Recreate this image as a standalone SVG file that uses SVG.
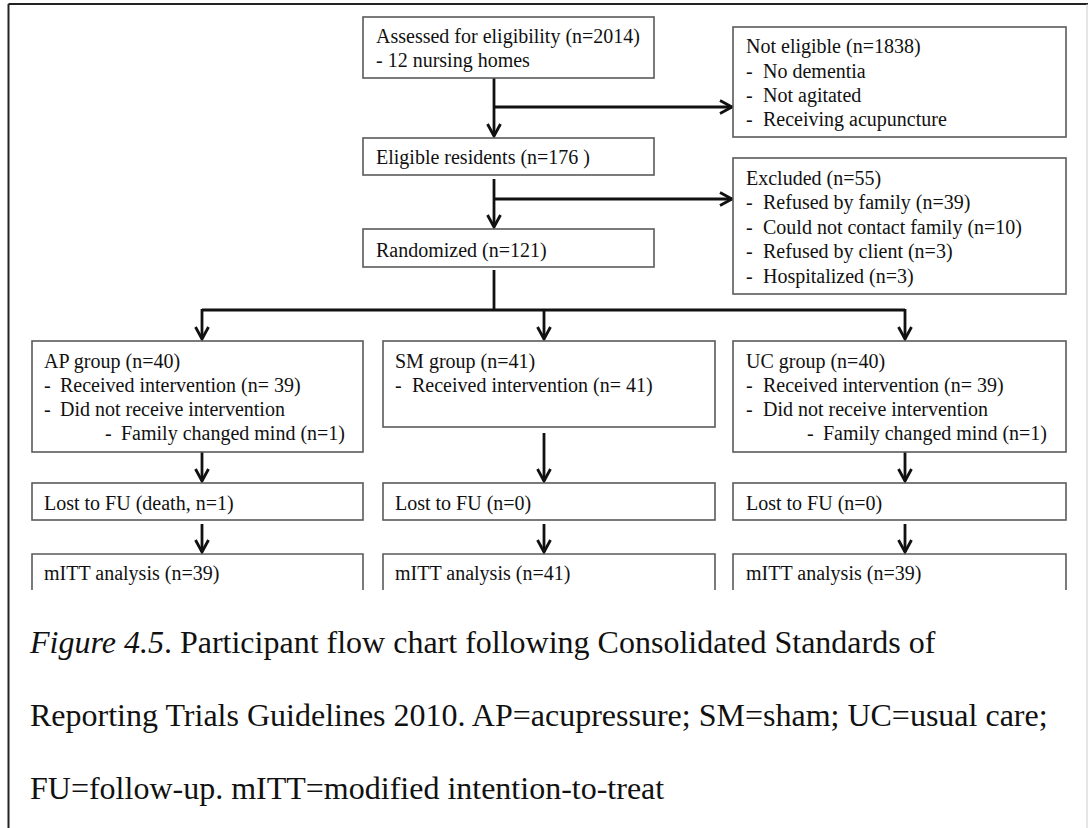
<svg xmlns="http://www.w3.org/2000/svg" width="1088" height="828" viewBox="0 0 1088 828">
<style>
  .box { fill: #fff; stroke: #5a5a5a; stroke-width: 1.6; }
  .t { font-family: "Liberation Serif", "Times New Roman", serif; font-size: 20px; fill: #111; }
  .cap { font-family: "Liberation Serif", "Times New Roman", serif; font-size: 32px; fill: #111; }
  .conn { fill: none; stroke: #111; stroke-width: 2.8; }
</style>
<defs>
  <marker id="arr" markerUnits="userSpaceOnUse" markerWidth="20" markerHeight="20" viewBox="-16 -10 20 20" refX="0" refY="0" orient="auto">
    <path d="M-12,-6.5 L0,0 L-12,6.5" fill="none" stroke="#111" stroke-width="2.8" stroke-linejoin="miter"/>
  </marker>
</defs>
<rect x="0" y="0" width="1088" height="828" fill="#fff"/>
<g id="frame">
  <line x1="8.5" y1="4" x2="1088" y2="4" stroke="#222" stroke-width="2"/>
  <line x1="8.5" y1="4" x2="8.5" y2="828" stroke="#222" stroke-width="2"/>
  <line x1="1087" y1="4" x2="1087" y2="828" stroke="#ccc" stroke-width="1"/>
</g>
<g id="connectors">
  <line class="conn" x1="494" y1="78" x2="494" y2="136" marker-end="url(#arr)"/>
  <line class="conn" x1="494" y1="107" x2="732" y2="107" marker-end="url(#arr)"/>
  <line class="conn" x1="494" y1="179" x2="494" y2="227" marker-end="url(#arr)"/>
  <line class="conn" x1="494" y1="199" x2="732" y2="199" marker-end="url(#arr)"/>
  <line class="conn" x1="494" y1="270" x2="494" y2="310"/>
  <line class="conn" x1="202" y1="310" x2="905" y2="310"/>
  <line class="conn" x1="202" y1="309" x2="202" y2="339" marker-end="url(#arr)"/>
  <line class="conn" x1="544" y1="310" x2="544" y2="339" marker-end="url(#arr)"/>
  <line class="conn" x1="905" y1="309" x2="905" y2="339" marker-end="url(#arr)"/>
  <line class="conn" x1="202" y1="452" x2="202" y2="481" marker-end="url(#arr)"/>
  <line class="conn" x1="544" y1="433" x2="544" y2="481" marker-end="url(#arr)"/>
  <line class="conn" x1="905" y1="452" x2="905" y2="481" marker-end="url(#arr)"/>
  <line class="conn" x1="202" y1="524" x2="202" y2="552" marker-end="url(#arr)"/>
  <line class="conn" x1="544" y1="524" x2="544" y2="552" marker-end="url(#arr)"/>
  <line class="conn" x1="905" y1="524" x2="905" y2="552" marker-end="url(#arr)"/>
</g>
<g id="assessed">
  <rect class="box" x="363" y="17" width="291" height="61"/>
  <text class="t" x="376" y="43">Assessed for eligibility (n=2014)</text>
  <text class="t" x="376" y="67">- 12 nursing homes</text>
</g>
<g id="not-eligible">
  <rect class="box" x="733" y="27" width="333" height="110"/>
  <text class="t" x="746" y="53">Not eligible (n=1838)</text>
  <text class="t" x="746" y="78">-</text><text class="t" x="763" y="78">No dementia</text>
  <text class="t" x="746" y="102">-</text><text class="t" x="763" y="102">Not agitated</text>
  <text class="t" x="746" y="126">-</text><text class="t" x="763" y="126">Receiving acupuncture</text>
</g>
<g id="eligible">
  <rect class="box" x="363" y="138" width="291" height="37"/>
  <text class="t" x="376" y="164">Eligible residents (n=176 )</text>
</g>
<g id="excluded">
  <rect class="box" x="733" y="158" width="333" height="136"/>
  <text class="t" x="746" y="185">Excluded (n=55)</text>
  <text class="t" x="746" y="209">-</text><text class="t" x="763" y="209">Refused by family (n=39)</text>
  <text class="t" x="746" y="234">-</text><text class="t" x="763" y="234">Could not contact family (n=10)</text>
  <text class="t" x="746" y="258">-</text><text class="t" x="763" y="258">Refused by client (n=3)</text>
  <text class="t" x="746" y="283">-</text><text class="t" x="763" y="283">Hospitalized (n=3)</text>
</g>
<g id="randomized">
  <rect class="box" x="363" y="229" width="291" height="38"/>
  <text class="t" x="376" y="257">Randomized (n=121)</text>
</g>
<g id="ap-group">
  <rect class="box" x="32" y="341" width="331" height="111"/>
  <text class="t" x="44" y="368">AP group (n=40)</text>
  <text class="t" x="44" y="392">-</text><text class="t" x="60" y="392">Received intervention (n= 39)</text>
  <text class="t" x="44" y="416">-</text><text class="t" x="60" y="416">Did not receive intervention</text>
  <text class="t" x="105" y="440">-</text><text class="t" x="121" y="440">Family changed mind (n=1)</text>
</g>
<g id="sm-group">
  <rect class="box" x="383" y="341" width="332" height="86"/>
  <text class="t" x="395" y="368">SM group (n=41)</text>
  <text class="t" x="395" y="392">-</text><text class="t" x="412" y="392">Received intervention (n= 41)</text>
</g>
<g id="uc-group">
  <rect class="box" x="733" y="341" width="333" height="111"/>
  <text class="t" x="746" y="368">UC group (n=40)</text>
  <text class="t" x="746" y="392">-</text><text class="t" x="763" y="392">Received intervention (n= 39)</text>
  <text class="t" x="746" y="416">-</text><text class="t" x="763" y="416">Did not receive intervention</text>
  <text class="t" x="807" y="440">-</text><text class="t" x="823" y="440">Family changed mind (n=1)</text>
</g>
<g id="ap-lost">
  <rect class="box" x="32" y="483" width="331" height="37"/>
  <text class="t" x="44" y="510">Lost to FU (death, n=1)</text>
</g>
<g id="sm-lost">
  <rect class="box" x="383" y="483" width="332" height="37"/>
  <text class="t" x="395" y="510">Lost to FU (n=0)</text>
</g>
<g id="uc-lost">
  <rect class="box" x="733" y="483" width="333" height="37"/>
  <text class="t" x="746" y="510">Lost to FU (n=0)</text>
</g>
<g id="ap-mitt">
  <path d="M32,590 V554 H363 V590" fill="none" stroke="#5a5a5a" stroke-width="1.6"/>
  <text class="t" x="44" y="580">mITT analysis (n=39)</text>
</g>
<g id="sm-mitt">
  <path d="M383,590 V554 H715 V590" fill="none" stroke="#5a5a5a" stroke-width="1.6"/>
  <text class="t" x="395" y="580">mITT analysis (n=41)</text>
</g>
<g id="uc-mitt">
  <path d="M733,590 V554 H1066 V590" fill="none" stroke="#5a5a5a" stroke-width="1.6"/>
  <text class="t" x="746" y="580">mITT analysis (n=39)</text>
</g>
<g id="caption">
  <text class="cap" x="30" y="653"><tspan font-style="italic">Figure 4.5</tspan>. Participant flow chart following Consolidated Standards of</text>
  <text class="cap" x="30" y="726">Reporting Trials Guidelines 2010. AP=acupressure; SM=sham; UC=usual care;</text>
  <text class="cap" x="30" y="799">FU=follow-up. mITT=modified intention-to-treat</text>
</g>
</svg>
